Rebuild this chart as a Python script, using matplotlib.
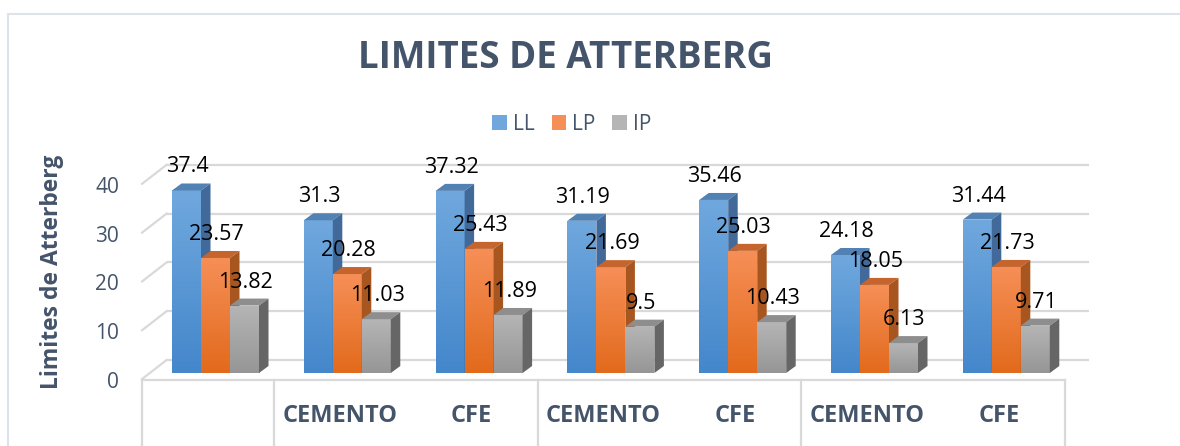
import numpy as np
import matplotlib
matplotlib.use("Agg")
import matplotlib.pyplot as plt
from matplotlib.patches import Polygon, Rectangle, Patch
from matplotlib.colors import to_rgb

plt.rcParams['font.family'] = ['Open Sans', 'DejaVu Sans']

# data
series = ['LL', 'LP', 'IP']
ll = [37.4, 31.3, 37.32, 31.19, 35.46, 24.18, 31.44]
lp = [23.57, 20.28, 25.43, 21.69, 25.03, 18.05, 21.73]
ip = [13.82, 11.03, 11.89, 9.5, 10.43, 6.13, 9.71]
cat_labels = ['', 'CEMENTO', 'CFE', 'CEMENTO', 'CFE', 'CEMENTO', 'CFE']
box_edges = [0, 1, 3, 5, 7]
yticks = [0, 10, 20, 30, 40]

# colours: (front top, front bottom, top face, side face)
cols = [('#70A8DE', '#4487CB', '#5282B4', '#41699A'),
        ('#F68F57', '#E26A1C', '#C5652D', '#A8561F'),
        ('#B5B5B5', '#969696', '#8E8E8E', '#666666')]
txt = '#44546A'
grid = '#D9D9D9'

W, H = 1180, 446
fig = plt.figure(figsize=(W / 100, H / 100), dpi=100)
ax = fig.add_axes([0, 0, 1, 1])
ax.axis('off')

PX, PY = 131.8, 4.88      # pixels per group / per unit
X0, Y0 = 215.5, 373       # pixel of group 0 / value 0
def dx(p): return p / PX
def dy(p): return p / PY

n = len(ll)
front_sh, back_sh = dx(-7.5), dx(17)
front_y, back_y = dy(-6), dy(13)

# back wall gridlines + left wall diagonals
for t in yticks:
    ax.plot([-0.5 + back_sh, n - 0.5 + back_sh], [t + back_y, t + back_y],
            color=grid, lw=1.6, zorder=1, solid_capstyle='butt')
    ax.plot([-0.5 + front_sh, -0.5 + back_sh], [t + front_y, t + back_y],
            color=grid, lw=1.6, zorder=1)
    ax.text(dx(119 - X0), t + front_y - dy(9), str(t), ha='right', va='baseline',
            fontsize=15, color=txt)

# category boxes
ybot = -(H - Y0) / PY
top = front_y - dy(1)
ax.plot([box_edges[0] - 0.5 + front_sh, box_edges[-1] - 0.5 + front_sh], [top, top],
        color=grid, lw=1.6, zorder=1)
for b in box_edges:
    ax.plot([b - 0.5 + front_sh] * 2, [top, ybot], color=grid, lw=1.6, zorder=1)
for i, lab in enumerate(cat_labels):
    ax.text(i + front_sh, dy(373 - 422), lab, ha='center', va='baseline',
            fontsize=17, weight='bold', color=txt)

# bars
w = dx(29)
ddx, ddy = dx(9.5), dy(7)
z = 3
for i in range(n):
    for j, vals in enumerate([ll, lp, ip]):
        v = vals[i]
        l = i + (j - 1.5) * w
        c_top, c_bot, c_face, c_side = cols[j]
        bar = ax.bar(l, v, width=w, align='edge', color=c_bot, lw=0, zorder=z)[0]
        g = np.linspace(0, 1, 64)[:, None, None]
        grad = (1 - g) * np.array(to_rgb(c_top)) + g * np.array(to_rgb(c_bot))
        im = ax.imshow(grad, extent=[l, l + w, 0, v], aspect='auto', origin='upper',
                       zorder=z, interpolation='bilinear')
        im.set_clip_path(bar)
        ax.add_patch(Polygon([(l, v), (l + w, v), (l + w + ddx, v + ddy), (l + ddx, v + ddy)],
                             closed=True, fc=c_face, ec='none', zorder=z))
        ax.add_patch(Polygon([(l + w, 0), (l + w + ddx, ddy), (l + w + ddx, v + ddy), (l + w, v)],
                             closed=True, fc=c_side, ec='none', zorder=z))
        z += 1
for i in range(n):
    for j, vals in enumerate([ll, lp, ip]):
        v = vals[i]
        l = i + (j - 1.5) * w
        ax.text(l + w / 2 + dx(1), v + dy(18), f'{v:g}', ha='center', va='baseline',
                fontsize=15.5, color='black', zorder=100)

ax.set_xlim(-X0 / PX, (W - X0) / PX)
ax.set_ylim(-(H - Y0) / PY, Y0 / PY)

# outer chart border
fig.patches.append(Rectangle((8 / W, -0.1), 1.2, 1.1 - 14.5 / H, transform=fig.transFigure,
                             fill=False, ec='#DEE3EA', lw=1.5))

fig.text(565 / W, 1 - 68 / H, 'LIMITES DE ATTERBERG', ha='center', va='baseline',
         fontsize=26.5, weight='bold', color=txt)
fig.text(52 / W, 1 - 272 / H, 'Limites de Atterberg', rotation=90, ha='center', va='center',
         fontsize=16.5, weight='bold', color=txt)

handles = [Patch(facecolor=c[0]) for c in cols]
fig.legend(handles, series, loc='center', bbox_to_anchor=(572 / W, 1 - 124 / H), ncol=3,
           frameon=False, fontsize=15, labelcolor=txt, handlelength=0.7, handleheight=0.7,
           handletextpad=0.3, columnspacing=0.8)

fig.savefig('out.png', dpi=100)
